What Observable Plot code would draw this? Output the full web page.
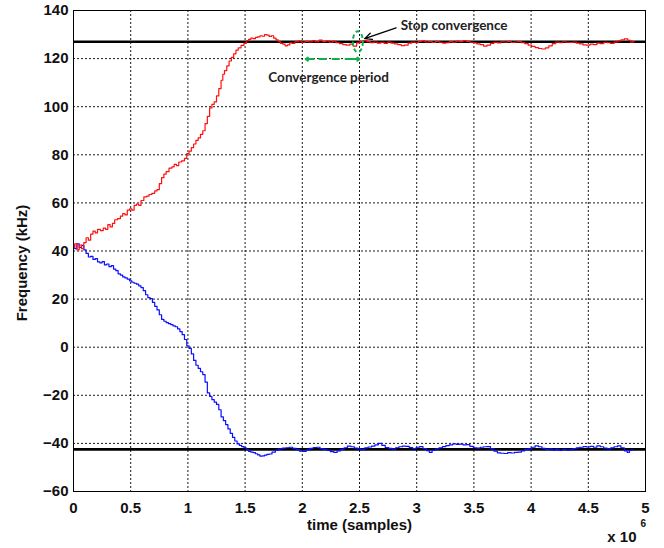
<!DOCTYPE html>
<html>
<head>
<meta charset="utf-8">
<script src="https://cdn.jsdelivr.net/npm/d3@7"></script>
<script src="https://cdn.jsdelivr.net/npm/@observablehq/plot@0.6"></script>
<style>
  html, body { margin: 0; padding: 0; background: #fff; }
  #chart { width: 664px; height: 548px; }
</style>
</head>
<body>
<div id="chart"></div>
<script>
// time in units of 10^6 samples, frequency in kHz
const redSeries = [
[0.00,41.5],[0.02,43],[0.04,40.5],[0.06,42.5],[0.08,41],[0.10,43.5],[0.12,45.5],[0.14,44.5],[0.16,47],[0.18,48.3],
[0.20,47.5],[0.22,49],[0.25,48.5],[0.27,49.5],[0.29,49],[0.31,51],[0.33,50],[0.35,51.5],[0.37,53],[0.40,53.5],
[0.42,54.5],[0.44,55.5],[0.46,55],[0.48,57],[0.50,57.5],[0.52,57],[0.54,59],[0.56,59.5],[0.58,59],[0.60,61],
[0.63,62.5],[0.65,62.8],[0.67,63.5],[0.70,64],[0.72,65],[0.74,65.5],[0.76,68],[0.78,70.5],[0.80,72],[0.82,73],
[0.85,74.5],[0.87,75],[0.89,76],[0.91,75.5],[0.93,77],[0.96,77.5],[0.98,78.5],[1.00,80.5],[1.02,81.5],[1.04,83],
[1.06,84.5],[1.08,86],[1.10,87],[1.12,88.5],[1.14,90],[1.16,93],[1.18,96],[1.20,99.5],[1.22,101],[1.24,102],
[1.26,104.5],[1.28,107.5],[1.30,111],[1.31,113.5],[1.33,115],[1.35,117],[1.37,119],[1.39,120.5],[1.41,122],[1.43,123.5],
[1.45,124.5],[1.48,125.5],[1.50,126.3],[1.52,127.5],[1.54,128],[1.56,128.5],[1.58,128.3],[1.60,128.8],[1.62,129],[1.64,129.5],
[1.66,129.3],[1.68,130],[1.70,129.8],[1.72,129.2],[1.74,129.5],[1.76,128.5],[1.78,127.8],[1.80,127],[1.82,126.3],[1.84,126],
[1.86,125.3],[1.88,125.7],[1.90,126.5],[1.92,126.3],[1.95,127],[1.98,127.4],[2.01,126.8],[2.04,127.2],[2.07,126.9],[2.10,127.5],
[2.13,127],[2.16,127.7],[2.19,127.1],[2.22,127.4],[2.25,126.8],[2.28,127.3],[2.31,126.6],[2.34,126.2],[2.37,125.8],[2.40,125.6],
[2.43,126],[2.46,125.2],[2.49,126.5],[2.52,127.2],[2.55,127.5],[2.58,127.1],[2.61,126.6],[2.64,126.9],[2.67,126.4],[2.70,126.8],
[2.73,126.3],[2.76,126.9],[2.79,126.4],[2.82,126.1],[2.85,125.8],[2.88,125.4],[2.91,125.6],[2.94,126.4],[2.97,126.9],[3.00,126.6],
[3.03,127.2],[3.06,127.4],[3.09,126.9],[3.12,127.1],[3.15,126.7],[3.18,127.2],[3.21,126.8],[3.24,126.4],[3.27,126.6],[3.30,127.1],
[3.33,126.8],[3.36,127.3],[3.39,127.1],[3.42,127.5],[3.45,127.2],[3.48,126.8],[3.51,126.5],[3.54,126.1],[3.57,125.8],[3.60,125.2],
[3.63,125.6],[3.66,126.3],[3.69,126.8],[3.72,126.5],[3.75,127],[3.78,126.9],[3.81,127.2],[3.84,126.7],[3.87,126.9],[3.90,127.1],
[3.93,126.6],[3.96,126.2],[3.99,125.6],[4.02,125.1],[4.05,124.6],[4.08,124.2],[4.11,124],[4.14,124.5],[4.17,125.3],[4.20,126.2],
[4.23,126.9],[4.26,126.6],[4.29,127],[4.32,126.8],[4.35,126.7],[4.38,126.9],[4.41,126.4],[4.44,126.1],[4.47,125.7],[4.50,125.6],
[4.53,126],[4.56,125.8],[4.59,126.4],[4.62,126.2],[4.65,126.8],[4.68,126.6],[4.71,126.3],[4.74,126.9],[4.77,127.4],[4.80,127.8],
[4.83,128.2],[4.86,127.6],[4.88,126.8],[4.90,127.1]
];
const blueSeries = [
[0.00,42.5],[0.02,41],[0.04,43],[0.06,41.5],[0.08,42.3],[0.10,40.5],[0.12,39],[0.14,37.5],[0.16,37.8],[0.18,36.5],
[0.20,36.8],[0.22,35.5],[0.24,35.1],[0.26,35.6],[0.28,34.2],[0.30,34.6],[0.32,33.5],[0.34,33.9],[0.36,32.5],[0.38,31.8],
[0.40,30.5],[0.42,30],[0.44,29.2],[0.46,28.8],[0.48,28.3],[0.50,27.6],[0.52,27],[0.54,26.6],[0.56,26.2],[0.58,25.5],
[0.60,24.8],[0.62,23.5],[0.64,21.8],[0.66,20.6],[0.68,20.2],[0.70,18.6],[0.72,17],[0.74,15.5],[0.76,13.5],[0.78,11.6],
[0.80,10.8],[0.82,10.2],[0.84,9.8],[0.86,9.4],[0.88,8.9],[0.90,8.5],[0.92,7.6],[0.94,6.5],[0.96,5.2],[0.98,3.2],
[1.00,0.6],[1.02,-0.5],[1.04,-2.8],[1.06,-5.5],[1.08,-7.5],[1.10,-8.8],[1.12,-10.2],[1.14,-11.4],[1.16,-14.5],[1.18,-19],
[1.20,-20.5],[1.22,-21.8],[1.24,-22.8],[1.26,-23.8],[1.28,-26],[1.30,-29],[1.32,-30.5],[1.34,-32.2],[1.36,-34],[1.38,-35.8],
[1.40,-37.5],[1.42,-39],[1.44,-40.2],[1.46,-40.8],[1.48,-41.3],[1.50,-41.8],[1.52,-42.6],[1.54,-43.3],[1.56,-43.6],[1.58,-43.8],
[1.60,-44.3],[1.62,-44.8],[1.64,-45.3],[1.66,-45.2],[1.68,-44.9],[1.70,-44.6],[1.72,-44.4],[1.75,-43.6],[1.78,-42.8],[1.81,-42.3],
[1.84,-42],[1.87,-41.8],[1.90,-41.6],[1.93,-42.1],[1.96,-42.6],[1.99,-43.2],[2.02,-43.3],[2.05,-42.7],[2.08,-42.1],[2.11,-41.7],
[2.14,-41.6],[2.17,-42.2],[2.20,-42.5],[2.23,-42.9],[2.26,-43.4],[2.29,-43.7],[2.32,-43.1],[2.35,-42.5],[2.38,-41.8],[2.41,-41.1],
[2.44,-41.4],[2.47,-42],[2.50,-42.3],[2.53,-42.6],[2.56,-41.9],[2.59,-41.5],[2.62,-41.1],[2.65,-40.6],[2.68,-40],[2.71,-40.8],
[2.74,-41.7],[2.77,-42.1],[2.80,-42.4],[2.83,-41.8],[2.86,-41.4],[2.89,-41.1],[2.92,-41.2],[2.95,-41.7],[2.98,-42.2],[3.01,-41.6],
[3.04,-41.3],[3.07,-42.2],[3.10,-43],[3.12,-43.7],[3.15,-42.9],[3.18,-42.3],[3.21,-41.8],[3.24,-41.3],[3.27,-40.9],[3.30,-40.6],
[3.33,-40.2],[3.36,-40.4],[3.39,-40.3],[3.42,-40.6],[3.45,-40.5],[3.48,-41.2],[3.51,-41.8],[3.54,-42],[3.57,-41.6],[3.60,-41.4],
[3.63,-41.3],[3.66,-42.3],[3.69,-43.2],[3.72,-43.9],[3.75,-44.1],[3.78,-44.2],[3.81,-43.8],[3.84,-44],[3.87,-43.7],[3.90,-43.6],
[3.93,-43.1],[3.96,-42.5],[3.99,-42.3],[4.02,-41.6],[4.05,-41],[4.08,-41.4],[4.11,-42.1],[4.14,-42.5],[4.17,-42.3],[4.20,-42.8],
[4.23,-42.4],[4.26,-42.9],[4.29,-42.5],[4.32,-42.8],[4.35,-42.7],[4.38,-42.2],[4.41,-41.9],[4.44,-41.6],[4.47,-41.3],[4.50,-41.5],
[4.53,-41.2],[4.56,-41.6],[4.59,-41],[4.62,-41.4],[4.65,-42],[4.68,-42.3],[4.71,-41.9],[4.74,-41.4],[4.77,-41],[4.80,-41.8],
[4.83,-43.1],[4.85,-43.7],[4.87,-42.9],[4.89,-42.7]
];
const targetFreqs = [127, -42.5];
const xTicks = [0, 0.5, 1, 1.5, 2, 2.5, 3, 3.5, 4, 4.5, 5];
const yTicks = [-60, -40, -20, 0, 20, 40, 60, 80, 100, 120, 140];
const xLabel = "time (samples)";
const yLabel = "Frequency (kHz)";
const stopLabel = "Stop convergence";
const periodLabel = "Convergence period";
// annotation anchors in data units
const stopText = [{x: 2.86, y: 133.6}];
const stopArrow = [{x1: 2.82, y1: 132.8, x2: 2.545, y2: 128.3}];
const stopMarker = {x: 2.49, y: 126.8};
const periodText = [{x: 2.23, y: 112.2}];
const periodSpan = [{x1: 2.03, x2: 2.50, y: 119.8}];
const periodHeads = [{x1: 2.10, x2: 2.03, y: 119.8}, {x1: 2.43, x2: 2.50, y: 119.8}];

const toObj = s => s.map(([t, f]) => ({t, f}));
const green = "#10b04a";
const annFont = "Lato, 'Open Sans', sans-serif";
const axFont = "'Liberation Sans', Arial, sans-serif";

const chart = Plot.plot({
  width: 664,
  height: 548,
  marginLeft: 73,
  marginRight: 19,
  marginTop: 10,
  marginBottom: 57,
  style: {fontFamily: axFont, fontSize: "15px", fontWeight: "bold", background: "#fff", color: "#111"},
  x: {type: "linear", domain: [0, 5], label: null},
  y: {type: "linear", domain: [-60, 140], label: null},
  marks: [
    Plot.gridX(xTicks.slice(1, -1), {stroke: "#000", strokeOpacity: 0.9, strokeDasharray: "2,2"}),
    Plot.gridY(yTicks.slice(1), {stroke: "#000", strokeOpacity: 0.9, strokeDasharray: "2,2"}),
    Plot.axisX(xTicks, {tickSize: 0, tickPadding: 11, tickFormat: d => String(d), fontFamily: axFont, fontWeight: "bold"}),
    Plot.axisY(yTicks, {tickSize: 0, tickPadding: 5, fontFamily: axFont, fontWeight: "bold"}),
    Plot.ruleY(targetFreqs, {stroke: "#000", strokeWidth: 2.6}),
    Plot.line(toObj(blueSeries), {x: "t", y: "f", stroke: "#0a10ff", strokeWidth: 1.2, curve: "step"}),
    Plot.line(toObj(redSeries), {x: "t", y: "f", stroke: "#ff1010", strokeWidth: 1.2, curve: "step"}),
    Plot.frame({stroke: "#000", strokeWidth: 1}),
    // annotations
    (index, scales) => {
      const el = document.createElementNS("http://www.w3.org/2000/svg", "ellipse");
      el.setAttribute("cx", scales.x(stopMarker.x));
      el.setAttribute("cy", scales.y(stopMarker.y));
      el.setAttribute("rx", 5);
      el.setAttribute("ry", 10.5);
      el.setAttribute("fill", "none");
      el.setAttribute("stroke", green);
      el.setAttribute("stroke-width", 2);
      el.setAttribute("stroke-dasharray", "4,3");
      return el;
    },
    Plot.link(periodSpan, {x1: "x1", x2: "x2", y1: "y", y2: "y", stroke: green, strokeWidth: 2, strokeDasharray: "8,5"}),
    Plot.arrow(periodHeads, {x1: "x1", x2: "x2", y1: "y", y2: "y", stroke: green, strokeWidth: 2, headLength: 9, headAngle: 70}),
    Plot.arrow(stopArrow, {x1: "x1", y1: "y1", x2: "x2", y2: "y2", stroke: "#000", strokeWidth: 1.3, headLength: 9, headAngle: 50}),
    Plot.text(stopText, {x: "x", y: "y", text: () => stopLabel, textAnchor: "start", fontFamily: annFont, fontSize: 13.5, fontWeight: "bold", fill: "#222"}),
    Plot.text(periodText, {x: "x", y: "y", text: () => periodLabel, textAnchor: "middle", fontFamily: annFont, fontSize: 13.5, fontWeight: "bold", fill: "#222"}),
    // axis titles
    Plot.text([yLabel], {frameAnchor: "left", textAnchor: "middle", lineAnchor: "middle", dx: -51, dy: 12, rotate: -90, fontFamily: axFont, fontSize: 15, fontWeight: "bold", fill: "#111"}),
    Plot.text([xLabel], {frameAnchor: "bottom", textAnchor: "middle", lineAnchor: "middle", dy: 34, fontFamily: axFont, fontSize: 15, fontWeight: "bold", fill: "#111"}),
    Plot.text(["x 10"], {frameAnchor: "bottom-right", textAnchor: "end", lineAnchor: "middle", dx: -9, dy: 46, fontFamily: axFont, fontSize: 15, fontWeight: "bold", fill: "#111"}),
    Plot.text(["6"], {frameAnchor: "bottom-right", textAnchor: "start", lineAnchor: "middle", dx: -5, dy: 32, fontFamily: axFont, fontSize: 10, fontWeight: "bold", fill: "#111"})
  ]
});
document.getElementById("chart").appendChild(chart);
</script>
</body>
</html>
